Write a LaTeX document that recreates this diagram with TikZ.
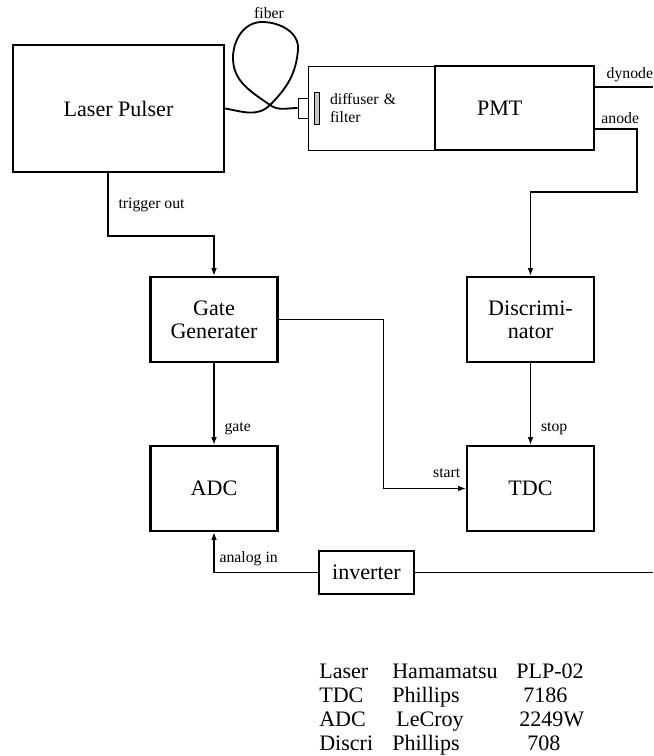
\documentclass[tikz,border=0pt]{standalone}
\usepackage{fontspec}
\setmainfont{Liberation Serif}
\usepackage{tikz}
\usetikzlibrary{arrows.meta,positioning}

\begin{document}
\begin{tikzpicture}[
  device/.style={draw, line width=1.5pt, minimum width=3.175cm, minimum height=2.125cm,
                 inner sep=0pt, align=center, font=\fontsize{15.7}{16.5}\selectfont},
  optic/.style={draw, line width=0.7pt, inner sep=0pt},
  wire/.style={line width=1.3pt},
  signal/.style={wire, -{Latex[length=5.5pt,width=4pt]}},
  lbl/.style={font=\fontsize{11.2}{12.5}\selectfont},
  tab/.style={anchor=base west, inner sep=0pt, font=\fontsize{15.7}{16.5}\selectfont}
]
\useasboundingbox (0,0) rectangle (16.325,-18.9);

% === Light source and PMT housing ===
\node[device, minimum width=5.275cm, minimum height=3.175cm] (laser) at (2.9625,-2.7125) {Laser Pulser};
\node[optic, lbl, minimum width=3.175cm, minimum height=2.1cm, text width=2.075cm,
      inner xsep=0.55cm, align=left] (diff) at (9.2875,-2.7) {diffuser \&\\filter};
\node[device, minimum width=3.975cm, minimum height=2.1cm, text width=1.875cm,
      inner xsep=1.05cm, align=left] (pmt) at (12.8625,-2.7) {PMT};
\node[optic, fill=white, minimum width=0.25cm, minimum height=0.5cm] (plug) at (7.575,-2.7) {};
\node[optic, fill=gray!45, minimum width=0.125cm, minimum height=0.8cm] (filt) at (7.9125,-2.7) {};

% fiber loop
\coordinate (cross) at (6.75,-2.625);
\draw[wire] (laser.east) to[out=-10,in=225] (cross) to[out=45,in=-95] (7.45,-1.25)
  to[out=85,in=0] (6.55,-0.55) to[out=180,in=90] (5.825,-1.45)
  to[out=-90,in=145] (cross) to[out=-35,in=180] (plug.west);
\node[lbl] (fiberlbl) at (6.725,-0.325) {fiber};

% PMT outputs
\coordinate (dynend) at (16.325,-2.175);
\draw[wire] ([yshift=0.525cm]pmt.east) -- node[lbl, above, pos=0.6] {dynode} (dynend);

% === Electronics ===
\node[device] (gg) at (5.35,-7.9875) {Gate\\Generater};
\node[device] (disc) at (13.2625,-7.9875) {Discrimi-\\nator};
\node[device] (adc) at (5.35,-12.2125) {ADC};
\node[device] (tdc) at (13.2625,-12.2125) {TDC};
\node[device, minimum width=2.375cm, minimum height=1.075cm] (inv) at (9.1625,-14.3125) {inverter};

\draw[signal] ([yshift=-0.525cm]pmt.east) -- node[lbl, above, pos=0.6] {anode} ++(1.05,0)
  -- ++(0,-1.575) -| (disc.north);
\draw[signal] ([xshift=-0.2625cm]laser.south) -- node[lbl, right, xshift=3.5pt] {trigger out} ++(0,-1.575) -| (gg.north);
\draw[signal] (gg.south) -- node[lbl, right, pos=0.8, xshift=3.5pt] {gate} (adc.north);
\draw[signal] (disc.south) -- node[lbl, right, pos=0.8, xshift=3.5pt] {stop} (tdc.north);
\draw[signal] (gg.east) -- ++(2.625,0) |- node[lbl, above left, pos=1, yshift=4pt] {start} (tdc.west);

\coordinate (invend) at (16.325,-14.3125);
\draw[wire] (inv.east) -- (invend);
\draw[signal] (inv.west) -| node[lbl, above right, pos=0.5, yshift=1pt] {analog in} (adc.south);

% === Equipment list ===
\foreach \r/\yy/\dev/\mk/\mx/\mdl/\cx in {
    1/-16.95/Laser/Hamamatsu/9.8/PLP-02/12.9,
    2/-17.56/TDC/Phillips/9.8/7186/13.075,
    3/-18.17/ADC/LeCroy/9.9/2249W/12.975,
    4/-18.76/Discri/Phillips/9.8/708/13.175} {
  \node[tab] (dev\r) at (7.975,\yy) {\dev};
  \node[tab] (mk\r) at (\mx,\yy) {\mk};
  \node[tab] (mdl\r) at (\cx,\yy) {\mdl};
}

\end{tikzpicture}
\end{document}
